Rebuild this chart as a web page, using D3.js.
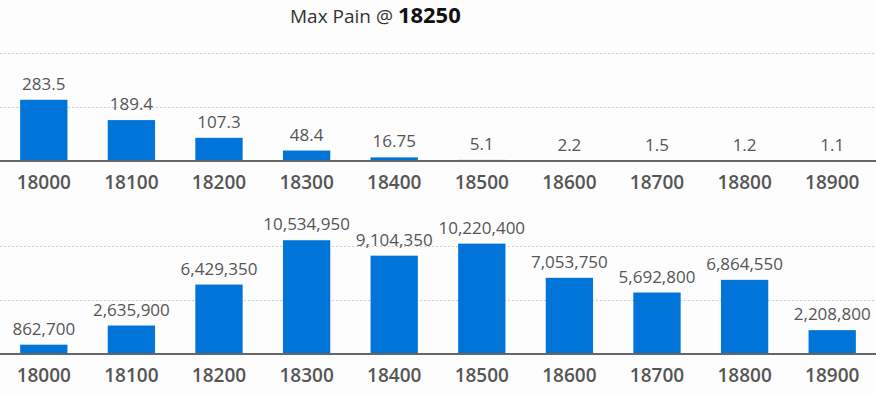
<!DOCTYPE html>
<html>
<head>
<meta charset="utf-8">
<script src="https://cdn.jsdelivr.net/npm/d3@7/dist/d3.min.js"></script>
<style>
  html, body { margin: 0; padding: 0; background: #fdfdfd; }
  svg { display: block; }
</style>
</head>
<body>
<svg id="chart" width="876" height="394"></svg>
<script>
const strikes = ["18000","18100","18200","18300","18400","18500","18600","18700","18800","18900"];
const painValues = [283.5, 189.4, 107.3, 48.4, 16.75, 5.1, 2.2, 1.5, 1.2, 1.1];
const totalValues = [862700, 2635900, 6429350, 10534950, 9104350, 10220400, 7053750, 5692800, 6864550, 2208800];
const topGridTicks = [250, 500];
const bottomGridTicks = [5000000, 10000000];
const maxPainStrike = "18250";

const W = 876;
const svg = d3.select("#chart");
svg.append("rect").attr("width", W).attr("height", 394).attr("fill", "#fdfdfd");

// Title
const title = svg.append("text")
  .attr("x", 290).attr("y", 23)
  .style("font-family", "'Open Sans', sans-serif");
title.append("tspan").attr("font-size", 19).attr("fill", "#333").text("Max Pain @ ");
title.append("tspan").attr("font-size", 22).attr("font-weight", 700).attr("fill", "#111").text(maxPainStrike);

const x = d3.scaleBand().domain(strikes).range([0, W]).paddingInner(0.46).paddingOuter(0.23);

function panel(values, domainMax, y0, y1, gridTicks, fmt) {
  const y = d3.scaleLinear().domain([0, domainMax]).range([y0, y1]);
  const g = svg.append("g");
  // gridlines
  g.selectAll("line.grid").data(gridTicks).join("line")
    .attr("class", "grid")
    .attr("x1", 0).attr("x2", W)
    .attr("y1", d => Math.round(y(d)) + 0.5).attr("y2", d => Math.round(y(d)) + 0.5)
    .attr("stroke", "#cfcfcf").attr("stroke-width", 1).attr("stroke-dasharray", "2,2");
  // bars
  g.selectAll("rect.bar").data(values).join("rect")
    .attr("class", "bar")
    .attr("x", (d, i) => x(strikes[i]))
    .attr("width", x.bandwidth())
    .attr("y", d => y(d))
    .attr("height", d => y0 - y(d))
    .attr("fill", "#0074d9");
  // value labels
  g.selectAll("text.val").data(values).join("text")
    .attr("class", "val")
    .attr("x", (d, i) => x(strikes[i]) + x.bandwidth() / 2)
    .attr("y", d => y(d) - 10)
    .attr("text-anchor", "middle")
    .attr("font-size", 17)
    .attr("fill", "#555")
    .style("font-family", "'Open Sans', sans-serif")
    .text(d => fmt(d));
  // axis
  const axis = d3.axisBottom(x).tickSize(0).tickPadding(0);
  const ag = g.append("g").attr("transform", `translate(0,${y0})`).call(axis);
  ag.select(".domain").attr("d", `M0,0H${W}`).attr("stroke", "#666").attr("stroke-width", 2);
  ag.selectAll(".tick text")
    .attr("y", 28).attr("dy", null)
    .attr("font-size", 19).attr("font-weight", 600).attr("fill", "#555")
    .style("font-family", "'Open Sans', sans-serif");
}

panel(painValues, 500, 161, 53, topGridTicks, d => String(d));
panel(totalValues, 10000000, 354, 246, bottomGridTicks, d3.format(","));
</script>
</body>
</html>
